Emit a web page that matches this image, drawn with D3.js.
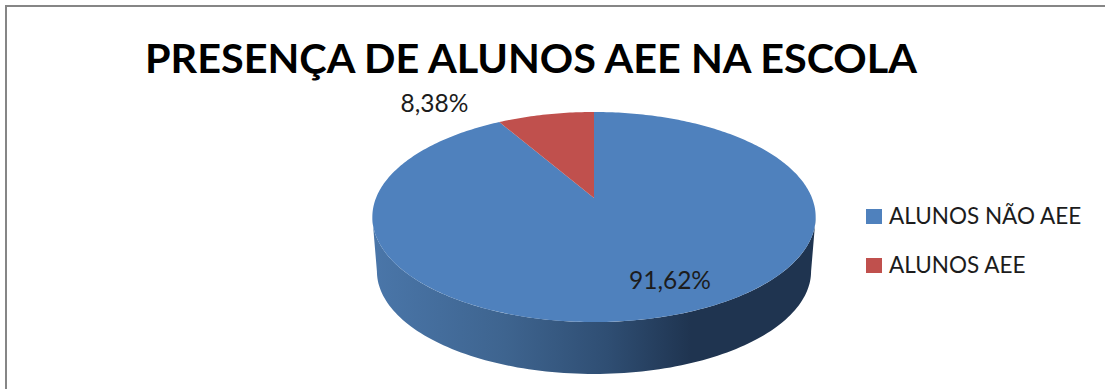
<!DOCTYPE html>
<html>
<head>
<meta charset="utf-8">
<script src="https://cdn.jsdelivr.net/npm/d3@7"></script>
<style>
  html, body { margin: 0; padding: 0; background: #fff; }
  svg { display: block; }
  text { font-family: Lato, "Open Sans", sans-serif; fill: #1c1c1c; }
</style>
</head>
<body>
<svg id="chart" width="1105" height="389"></svg>
<script>
const chartTitle = "PRESENÇA DE ALUNOS AEE NA ESCOLA";
const categories = ["ALUNOS NÃO AEE", "ALUNOS AEE"];
const percentages = [91.62, 8.38];
const sliceColors = ["#4f81bd", "#c0504d"];

const svg = d3.select("#chart");
const fmt = v => v.toFixed(2).replace(".", ",") + "%";

// Chart frame: only the top and left edges fall inside the page.
svg.append("path")
  .attr("d", d3.line()([[6, 389], [6, 6], [1105, 6]]))
  .attr("fill", "none").attr("stroke", "#868686").attr("stroke-width", 2);

svg.append("text")
  .attr("x", 145).attr("y", 73)
  .attr("font-size", 40).attr("font-weight", 700)
  .style("fill", "#000")
  .attr("textLength", 772).attr("lengthAdjust", "spacingAndGlyphs")
  .text(chartTitle);

// Perspective projection of a disc lying flat: the far edge shrinks towards the horizon.
const tilt = 0.181;
const project = (lens, a) => {
  const u = Math.sin(a), v = Math.cos(a), w = 1 + tilt * v;
  return [lens.cx + lens.A * u / w, lens.cy - lens.B * v / w];
};
const topLens = { cx: 594, cy: 198, A: 218, B: 101.6 };
const baseLens = { cx: 594, cy: 252.6, A: 213.5, B: 99.4 };

// Wall of the disc, from the right silhouette round the front to the left one.
const defs = svg.append("defs");
const grad = defs.append("linearGradient").attr("id", "wall")
  .attr("gradientUnits", "userSpaceOnUse")
  .attr("x1", 373).attr("x2", 815).attr("y1", 0).attr("y2", 0);
[[0, "#4a76a9"], [0.3, "#3e648f"], [0.53, "#2f4e73"], [0.72, "#1f3450"], [1, "#1f3450"]]
  .forEach(([o, c]) => grad.append("stop").attr("offset", o).attr("stop-color", c));

const rimStart = Math.PI / 2 + 0.182, rimEnd = 3 * Math.PI / 2 - 0.182;
const rimSteps = d3.range(0, 121).map(i => rimStart + (rimEnd - rimStart) * i / 120);
const wallPts = rimSteps.map(a => project(topLens, a))
  .concat(rimSteps.slice().reverse().map(a => project(baseLens, a)));
svg.append("path")
  .attr("d", d3.line()(wallPts) + "Z")
  .attr("fill", "url(#wall)");

// Top face: slices run clockwise from twelve o'clock.
const pie = d3.pie().sort(null);
const arcs = pie(percentages);
const slicePath = d => {
  const n = Math.max(8, Math.ceil((d.endAngle - d.startAngle) * 60));
  const rim = d3.range(0, n + 1).map(i =>
    project(topLens, d.startAngle + (d.endAngle - d.startAngle) * i / n));
  return d3.line()([[topLens.cx, topLens.cy], ...rim]) + "Z";
};
svg.selectAll("path.slice").data(arcs).join("path")
  .attr("class", "slice")
  .attr("d", slicePath)
  .attr("fill", (d, i) => sliceColors[i]);

// Data labels
const labelPos = [[670, 289], [434.5, 112]];
svg.selectAll("text.value").data(percentages).join("text")
  .attr("class", "value")
  .attr("x", (d, i) => labelPos[i][0]).attr("y", (d, i) => labelPos[i][1])
  .attr("text-anchor", "middle").attr("font-size", 24.5)
  .text(fmt);

// Legend
const legendY = d3.scalePoint().domain(categories).range([224, 273]);
const legend = svg.selectAll("g.key").data(categories).join("g")
  .attr("class", "key")
  .attr("transform", d => `translate(866,${legendY(d)})`);
legend.append("rect")
  .attr("x", 0).attr("y", -15).attr("width", 16).attr("height", 15)
  .attr("fill", (d, i) => sliceColors[i]);
legend.append("text")
  .attr("x", 23).attr("y", 0).attr("font-size", 22.5)
  .text(d => d);
</script>
</body>
</html>
